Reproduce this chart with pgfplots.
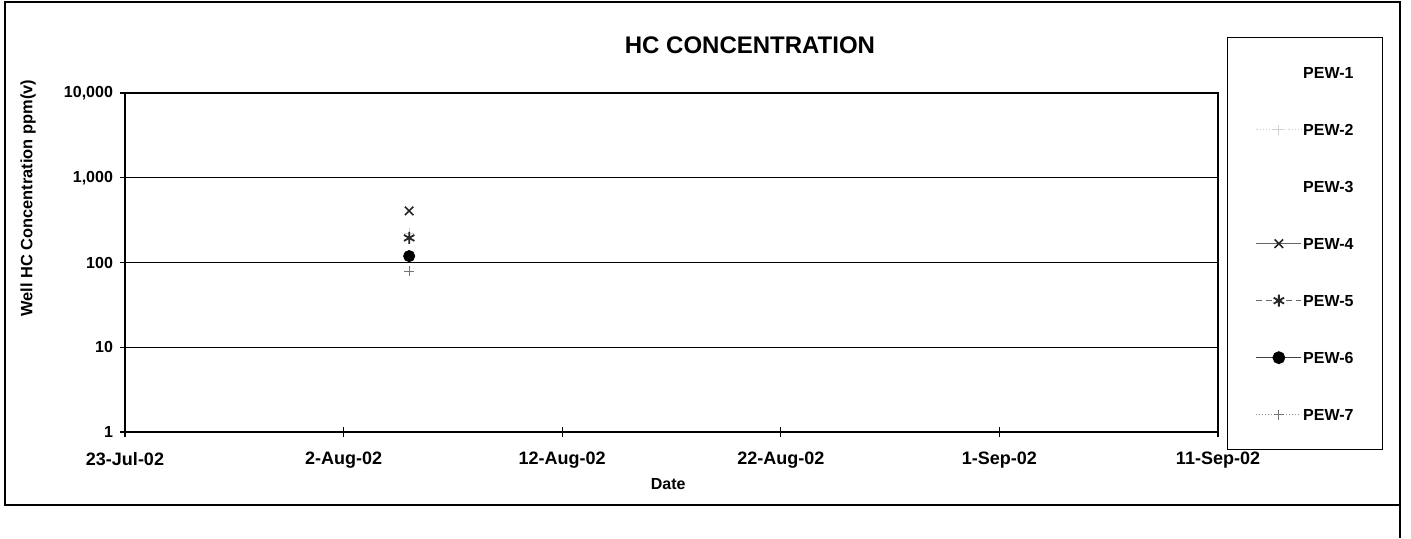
\documentclass[border=0pt]{standalone}
\usepackage{pgfplots}
\pgfplotsset{compat=1.18}
\usepackage{fontspec}
\setmainfont{Liberation Sans}
\begin{document}
\begin{tikzpicture}[x=0.5pt,y=0.5pt]
\path[use as bounding box] (0,0) rectangle (1411,538);
\draw[line width=0.6pt] (5,536) rectangle (1400,33);
\draw[line width=0.6pt] (1400,33) -- (1400,0);
\begin{axis}[
  at={(62.5pt,53pt)}, anchor=south west,
  scale only axis, width=546.5pt, height=169.5pt,
  xmin=0, xmax=50, ymode=log, ymin=1, ymax=10000,
  xtick={0,10,20,30,40,50},
  xticklabels={23-Jul-02,2-Aug-02,12-Aug-02,22-Aug-02,1-Sep-02,11-Sep-02},
  ytick={1,10,100,1000,10000},
  yticklabels={1,10,100,{1,000},{10,000}},
  yminorticks=false, xminorticks=false,
  xtick pos=bottom, ytick pos=left,
  tick align=center, major tick length=5pt,
  tick style={black, line width=0.6pt},
  axis line style={line width=1.1pt},
  ymajorgrids, grid style={black, line width=0.6pt},
  xticklabel style={font=\bfseries\fontsize{9}{10}\selectfont, yshift=-4pt},
  yticklabel style={font=\bfseries\fontsize{8}{9}\selectfont},
  title={HC CONCENTRATION},
  title style={font=\bfseries\fontsize{12}{14}\selectfont, at={(0.5718,1.106)}, anchor=center},
  xlabel={Date},
  xlabel style={font=\bfseries\fontsize{8}{9}\selectfont, at={(0.497,-0.153)}, anchor=center},
  ylabel={Well HC Concentration ppm(v)},
  ylabel style={font=\bfseries\fontsize{8.2}{9}\selectfont, at={(-0.0887,0.69)}, anchor=center},
  legend image code/.code={\draw[mark repeat=2,mark phase=2] plot coordinates {(0pt,0pt) (11.25pt,0pt) (22.5pt,0pt)};},
  legend style={at={(1.0082,1.165)}, anchor=north west, draw=black, line width=0.6pt,
    font=\bfseries\fontsize{8}{9}\selectfont, inner xsep=14pt, inner ysep=14pt,
    row sep=21.5pt, nodes={text height=6pt, text depth=0pt, inner sep=0.5pt}},
  legend cell align=left,
]
% data points (single sampling event)
\addplot[only marks, gray!35, mark=+, mark size=2.5pt, line width=0.5pt, forget plot] coordinates {(13,220)};
\addplot[only marks, black!85, mark=x, mark size=3pt, line width=0.8pt, forget plot] coordinates {(13,406)};
\addplot[only marks, black!85, mark=asterisk, mark size=3pt, line width=0.9pt, forget plot] coordinates {(13,195)};
\addplot[only marks, black, mark=*, mark size=2.8pt, forget plot] coordinates {(13,119)};
\addplot[only marks, black!55, mark=+, mark size=2.5pt, line width=0.5pt, forget plot] coordinates {(13,79)};
% legend
\addlegendimage{white}
\addlegendentry{PEW-1}
\addlegendimage{gray!35, densely dotted, mark=+, mark size=2.5pt, mark options={solid}}
\addlegendentry{PEW-2}
\addlegendimage{white}
\addlegendentry{PEW-3}
\addlegendimage{black!60, line width=0.6pt, mark=x, mark size=3pt, mark options={solid, black!85, line width=0.8pt}}
\addlegendentry{PEW-4}
\addlegendimage{black!60, densely dashed, line width=0.6pt, mark=asterisk, mark size=3pt, mark options={solid, black!85, line width=0.9pt}}
\addlegendentry{PEW-5}
\addlegendimage{black!75, line width=0.8pt, mark=*, mark size=2.8pt, mark options={solid, black}}
\addlegendentry{PEW-6}
\addlegendimage{black!45, densely dotted, line width=0.5pt, mark=+, mark size=2.5pt, mark options={solid, black!55}}
\addlegendentry{PEW-7}
\end{axis}
\end{tikzpicture}
\end{document}
